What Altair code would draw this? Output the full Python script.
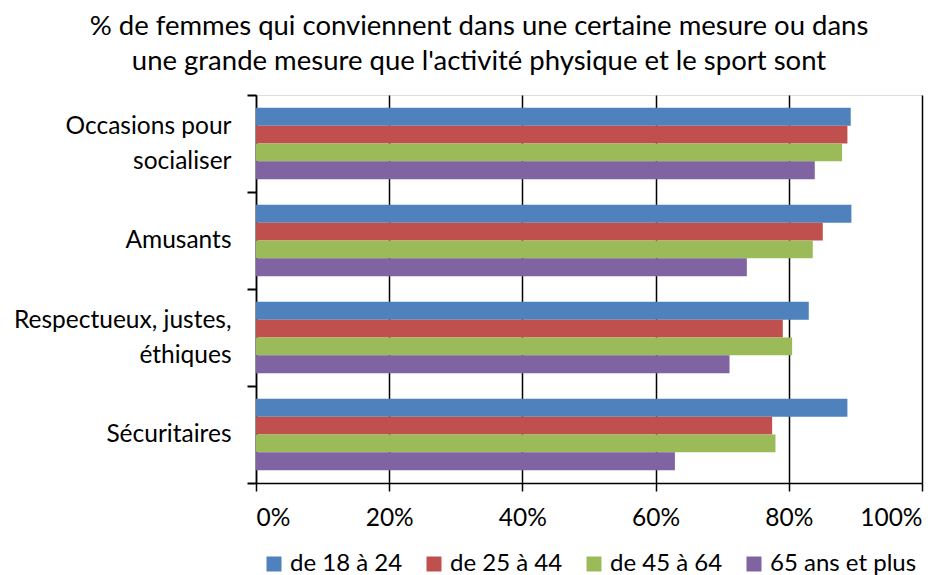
import altair as alt
import pandas as pd

categories = ["Occasions pour\nsocialiser", "Amusants", "Respectueux, justes,\néthiques", "Sécuritaires"]
series = ["de 18 à 24", "de 25 à 44", "de 45 à 64", "65 ans et plus"]
colors = ["#4F81BD", "#C0504D", "#9BBB59", "#8064A2"]

v_18_24 = [89.3, 89.4, 83.0, 88.8]
v_25_44 = [88.8, 85.1, 79.1, 77.5]
v_45_64 = [88.0, 83.6, 80.5, 78.0]
v_65_plus = [83.9, 73.7, 71.1, 62.9]

title_lines = ["% de femmes qui conviennent dans une certaine mesure ou dans",
               "une grande mesure que l'activité physique et le sport sont"]
x_ticks = [0, 20, 40, 60, 80, 100]

rows = []
for s, vals in zip(series, [v_18_24, v_25_44, v_45_64, v_65_plus]):
    for c, v in zip(categories, vals):
        rows.append({"cat": c, "serie": s, "val": v})
df = pd.DataFrame(rows)

FONT = "Lato"
LBL = 24.5

chart = alt.Chart(df).mark_bar().encode(
    y=alt.Y("cat:N", sort=categories, title=None,
            scale=alt.Scale(paddingInner=0, paddingOuter=0),
            axis=alt.Axis(labelExpr="datum.value ? split(datum.value, '\\n') : ''",
                          labelAlign="right",
                          labelOffset={"condition": {"test": "datum.value && indexof(datum.value, '\\n') >= 0", "value": -17},
                                       "value": 0},
                          labelFontSize=LBL, labelFont=FONT, labelColor="black", labelLimit=400,
                          labelPadding=16, tickBand="extent", tickSize=9, tickColor="black",
                          tickWidth=2, domainColor="black", domainWidth=1.5,
                          labelLineHeight=35, grid=False)),
    yOffset=alt.YOffset("serie:N", sort=series, scale=alt.Scale(paddingInner=0, paddingOuter=0.72)),
    x=alt.X("val:Q", title=None,
            scale=alt.Scale(domain=[0, 100], nice=False),
            axis=alt.Axis(values=x_ticks, labelExpr="datum.value + '%'",
                          labelFontSize=LBL, labelFont=FONT, labelColor="black",
                          labelPadding=15, tickSize=8, tickColor="black", tickWidth=1.5,
                          domainColor="black", domainWidth=1.5,
                          grid=True, gridColor="black", gridWidth=1.5)),
    color=alt.Color("serie:N", sort=series,
                    scale=alt.Scale(domain=series, range=colors),
                    legend=alt.Legend(title=None, orient="none", direction="horizontal",
                                      legendX=6, legendY=457, symbolType="square",
                                      symbolSize=225, symbolStrokeWidth=0,
                                      labelFontSize=24, labelFont=FONT, labelColor="black",
                                      columnPadding=19, labelOffset=4, padding=0)),
).properties(
    width=666, height=388,
    title=alt.Title(title_lines, fontSize=27.5, font=FONT, fontWeight="normal",
                    color="black", anchor="middle", dx=-110, lineHeight=35, offset=7),
    autosize=alt.AutoSizeParams(type="none"),
    padding={"left": 248, "top": 87, "right": 22, "bottom": 92},
).configure_view(stroke=None).configure(background="white")

chart.save("out.html", embed_options={"renderer": "svg", "actions": False})
